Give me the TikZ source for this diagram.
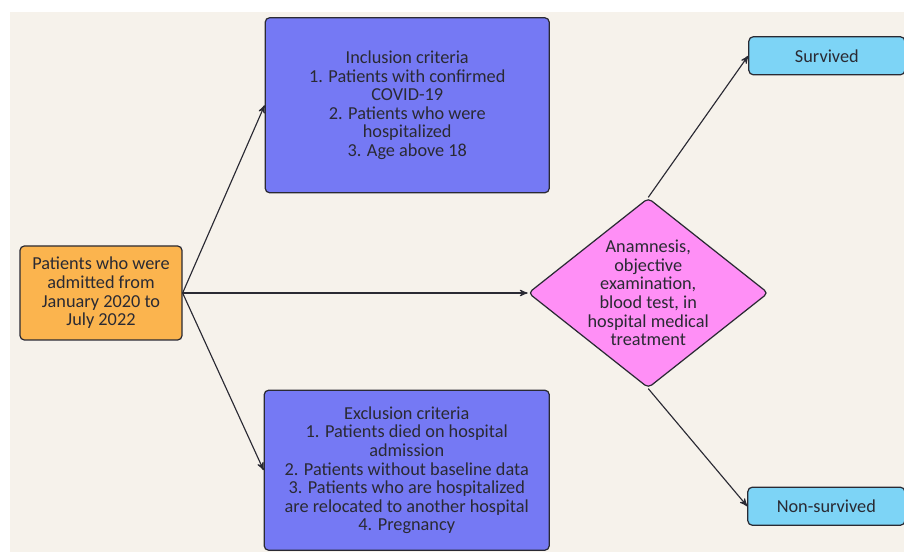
\documentclass[tikz,border=0pt]{standalone}
\usepackage{fontspec}
\setmainfont{Carlito}
\usepackage{tikz}
\usetikzlibrary{positioning, arrows, shapes}
\tikzset{>=stealth'}
\definecolor{paper}{HTML}{F6F2EB}
\definecolor{ink}{HTML}{2A2A33}
\definecolor{startcol}{HTML}{FBB44E}
\definecolor{critcol}{HTML}{7579F4}
\definecolor{stepcol}{HTML}{FF8FF6}
\definecolor{endcol}{HTML}{7DD4F6}

\begin{document}
\begin{tikzpicture}
    [box/.style={draw=ink, line width=0.7pt, rounded corners=2.5pt, align=center,
        text=ink, font=\fontsize{10.4}{10.6}\selectfont, inner sep=2pt},
     flow/.style={->, line width=0.65pt, draw=ink}]

    \useasboundingbox (0,0) rectangle (18.08,-11.04);
    \fill[paper] (0.2,-0.24) rectangle (18.08,-11.04);

    \node[box, fill=startcol, minimum width=3.24cm, minimum height=1.88cm] (start) at (2.02,-5.86)
      {Patients who were\\ admitted from\\ January 2020 to\\ July 2022};

    \node[box, fill=critcol, minimum width=5.68cm, minimum height=3.5cm,
      above right=1.04cm and 1.64cm of start] (incl)
      {Inclusion criteria\\ 1. Patients with confirmed\\ COVID-19\\ 2. Patients who were\\
       hospitalized\\ 3. Age above 18};

    \node[box, fill=critcol, minimum width=5.7cm, minimum height=3.2cm,
      below right=0.98cm and 1.62cm of start] (excl)
      {Exclusion criteria\\ 1. Patients died on hospital\\ admission\\
       2. Patients without baseline data\\ 3. Patients who are hospitalized\\
       are relocated to another hospital\\ 4. Pregnancy};

    \node[box, diamond, fill=stepcol, aspect=1.26, inner sep=-5pt,
      minimum width=4.8cm, minimum height=3.8cm, right=6.9cm of start] (exam)
      {Anamnesis,\\ objective\\ examination,\\ blood test, in\\ hospital medical\\ treatment};

    \node[box, fill=endcol, minimum width=3.12cm, minimum height=0.76cm,
      above right=2.44cm and 2cm of exam.north] (surv) {Survived};
    \node[box, fill=endcol, minimum width=3.14cm, minimum height=0.76cm,
      below right=1.96cm and 1.98cm of exam.south] (nonsurv) {Non-survived};

    \draw[flow] (start.east) to (incl.west);
    \draw[flow] (start.east) to (excl.west);
    \draw[flow] (start.east) to (exam.west);
    \draw[flow] (exam.north) to (surv.west);
    \draw[flow] (exam.south) to (nonsurv.west);
\end{tikzpicture}
\end{document}
